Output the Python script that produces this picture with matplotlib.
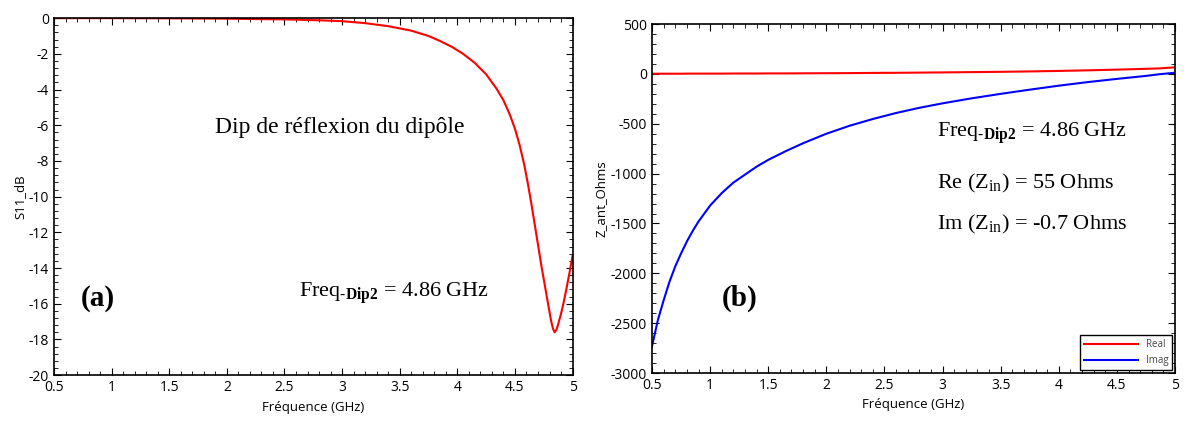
import numpy as np
import matplotlib
matplotlib.use("Agg")
import matplotlib.pyplot as plt
from matplotlib.ticker import AutoMinorLocator, MultipleLocator

plt.rcParams['font.family'] = ['Open Sans', 'DejaVu Sans']
plt.rcParams['axes.unicode_minus'] = False
plt.rcParams['mathtext.fontset'] = 'custom'
plt.rcParams['mathtext.rm'] = 'Liberation Serif'
plt.rcParams['mathtext.it'] = 'Liberation Serif:italic'
plt.rcParams['mathtext.bf'] = 'Liberation Serif:bold'

# S11 (dB)
f_s11 = [0.5, 1.0, 1.5, 2.0, 2.5, 2.8, 3.0, 3.2, 3.4, 3.6, 3.75, 3.85, 3.95, 4.05, 4.15,
         4.25, 4.34, 4.4, 4.455, 4.5, 4.54, 4.58, 4.61, 4.64, 4.67, 4.70, 4.73, 4.76,
         4.787, 4.815, 4.83, 4.845, 4.86, 4.875, 4.9, 4.925, 4.95, 4.975, 5.0]
s11 = [0.0, 0.0, -0.01, -0.03, -0.07, -0.12, -0.17, -0.28, -0.45, -0.7, -1.0, -1.28, -1.6,
       -2.0, -2.5, -3.15, -3.95, -4.6, -5.4, -6.2, -7.1, -8.2, -9.2, -10.3, -11.5, -12.7,
       -13.9, -15.0, -16.0, -17.0, -17.4, -17.6, -17.45, -17.15, -16.55, -15.85, -15.05,
       -14.2, -13.3]

# Z_in (Ohms)
f_z = [0.5, 0.55, 0.6, 0.65, 0.7, 0.75, 0.8, 0.85, 0.9, 1.0, 1.1, 1.2, 1.3, 1.4, 1.5,
       1.65, 1.8, 2.0, 2.2, 2.4, 2.6, 2.8, 3.0, 3.25, 3.5, 3.75, 4.0, 4.25, 4.5, 4.75,
       4.86, 5.0]
z_imag = [-2730, -2470, -2270, -2085, -1930, -1800, -1680, -1575, -1480, -1320, -1195,
          -1090, -1010, -930, -862, -775, -695, -600, -520, -452, -392, -340, -295, -245,
          -200, -158, -118, -82, -50, -20, -4, 12]
z_real = [2, 2, 2, 2, 2, 2, 3, 3, 3, 3, 3, 4, 4, 4, 5, 5, 6, 7, 8, 10, 11, 13, 15, 18,
          21, 25, 30, 36, 43, 51, 55, 66]

x_ticks = [0.5, 1, 1.5, 2, 2.5, 3, 3.5, 4, 4.5, 5]
x_labels = ['0.5', '1', '1.5', '2', '2.5', '3', '3.5', '4', '4.5', '5']

fig = plt.figure(figsize=(11.84, 4.22), dpi=100)
ax1 = fig.add_axes([0.0456, 0.111, 0.438, 0.846])
ax2 = fig.add_axes([0.5507, 0.116, 0.4417, 0.827])

serif = 'Liberation Serif'

ax1.plot(f_s11, s11, color='#ff0000', lw=1.5)
ax1.set_xlim(0.5, 5)
ax1.set_ylim(-20, 0)
ax1.yaxis.set_major_locator(MultipleLocator(2))
ax1.set_xlabel('Fréquence (GHz)', fontsize=9.5)
ax1.set_ylabel('S11_dB', fontsize=9.5, labelpad=2)
ax1.text(1.9, -6.1, 'Dip de réflexion du dipôle', family=serif, fontsize=17, va='center')
ax1.text(0.73, -15.7, '(a)', family=serif, fontsize=21, fontweight='bold', va='center')
ax1.text(2.63, -15.4, 'Freq$_{\\mathbf{\u2010Dip2}}$ = 4.86 GHz', family=serif, fontsize=16, va='center')

ax2.plot(f_z, z_real, color='#ff0000', lw=1.5, label='Real')
ax2.plot(f_z, z_imag, color='#0000ff', lw=1.5, label='Imag')
ax2.set_xlim(0.5, 5)
ax2.set_ylim(-3000, 500)
ax2.yaxis.set_major_locator(MultipleLocator(500))
ax2.set_xlabel('Fréquence (GHz)', fontsize=9.5)
ax2.set_ylabel('Z_ant_Ohms', fontsize=9.5, labelpad=2)
ax2.text(1.10, -2248, '(b)', family=serif, fontsize=21, fontweight='bold', va='center')
ax2.text(2.95, -593, 'Freq$_{\\mathbf{\u2010Dip2}}$ = 4.86 GHz', family=serif, fontsize=16, va='center')
ax2.text(2.95, -1095, 'Re (Z$_{\\mathrm{in}}$) = 55 Ohms', family=serif, fontsize=16, va='center')
ax2.text(2.95, -1506, 'Im (Z$_{\\mathrm{in}}$) = -0.7 Ohms', family=serif, fontsize=16, va='center')
leg = ax2.legend(loc='lower right', fontsize=7, fancybox=False, framealpha=1,
                 edgecolor='black', handlelength=5.5, borderaxespad=0.3, labelcolor='#444444')
leg.get_frame().set_linewidth(1.0)

for ax in (ax1, ax2):
    ax.set_xticks(x_ticks)
    ax.set_xticklabels(x_labels)
    ax.xaxis.set_minor_locator(AutoMinorLocator(5))
    ax.yaxis.set_minor_locator(AutoMinorLocator(5))
    ax.tick_params(which='both', direction='in', top=True, right=True, labelsize=10)
    ax.tick_params(which='major', length=5)
    ax.tick_params(which='minor', length=3)
    for sp in ax.spines.values():
        sp.set_linewidth(1.2)

fig.savefig('out.png', dpi=100)
